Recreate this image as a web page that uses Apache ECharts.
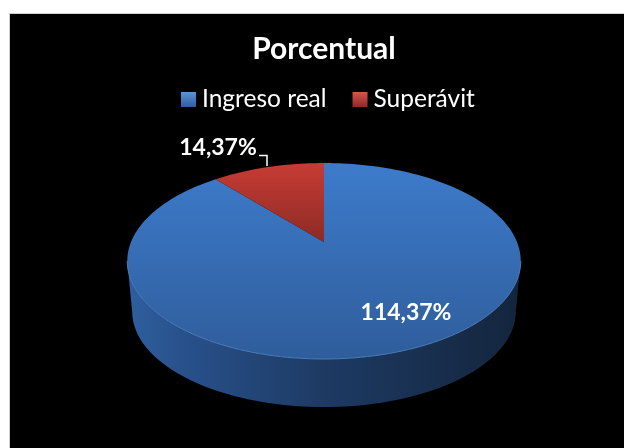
<!DOCTYPE html>
<html>
<head>
<meta charset="utf-8">
<title>Porcentual</title>
<script src="https://cdn.jsdelivr.net/npm/echarts@6/dist/echarts.min.js"></script>
<style>
html,body{margin:0;padding:0;background:#fff;}
#fondo{position:absolute;left:9px;top:13px;right:0;bottom:0;background:#000;border-left:1px solid #d0d0d0;border-top:1px solid #d0d0d0;}
#grafico{position:absolute;left:0;top:0;width:624px;height:448px;}
</style>
</head>
<body>
<div id="fondo"></div>
<div id="grafico"></div>
<script>
var categorias = ['Ingreso real', 'Superávit'];
var valores = [114.37, 14.37];

var total = valores[0] + valores[1];

/* la torta en perspectiva: cx,cy es el centro visto, k la perspectiva */
var cx = 324, cy = 242, ejeX = 193, ejeY = 94.3, k = 0.194;
var alto = 51, escalaBase = 0.975;

function punto(ang, escala, dy) {
    var u = Math.sin(ang), v = Math.cos(ang);
    var d = 1 + k * v;
    return [cx + escala * ejeX * u / d, cy + dy - escala * ejeY * v / d];
}

function sector(ini, fin) {
    var pts = [[cx, cy]];
    var n = Math.ceil((fin - ini) / 0.03);
    for (var i = 0; i <= n; i++) {
        pts.push(punto(ini + (fin - ini) * i / n, 1, 0));
    }
    return pts;
}

function borde(ini, fin, escala, dy) {
    var pts = [];
    var n = 90;
    for (var i = 0; i <= n; i++) {
        pts.push(punto(ini + (fin - ini) * i / n, escala, dy));
    }
    return pts;
}

function grad(c1, c2) {
    return new echarts.graphic.LinearGradient(0, 0, 0, 1, [
        {offset: 0, color: c1},
        {offset: 1, color: c2}
    ]);
}

function texto(valor) {
    return valor.toFixed(2).replace('.', ',') + '%';
}

function dibujaIngreso(params, api) {
    var fin = 2 * Math.PI * api.value(0) / total;
    var t1 = Math.acos(-k), t2 = 2 * Math.PI - t1;
    var pared = borde(t1, t2, 1, 0).concat(borde(t2, t1, escalaBase, alto));
    return {
        type: 'group',
        children: [
            {
                type: 'polygon',
                shape: {points: pared},
                style: {
                    fill: new echarts.graphic.LinearGradient(1, 0, 0, 0, [
                        {offset: 0, color: '#14253d'},
                        {offset: 0.5, color: '#1d3a63'},
                        {offset: 0.85, color: '#28508a'},
                        {offset: 1, color: '#2f5f9f'}
                    ])
                }
            },
            {
                type: 'polygon',
                shape: {points: sector(0, fin)},
                style: {fill: grad('#3d7bcb', '#2f5d9b')}
            },
            {
                type: 'polyline',
                shape: {points: borde(t1, t2, 1, 0)},
                style: {fill: 'none', stroke: '#4a7cba', lineWidth: 1}
            },
            {
                type: 'text',
                style: {
                    x: 406, y: 313, text: texto(api.value(0)),
                    fill: '#fff', font: 'bold 23px Lato',
                    align: 'center', verticalAlign: 'middle'
                }
            }
        ]
    };
}

function dibujaSuperavit(params, api) {
    var ini = 2 * Math.PI * valores[0] / total;
    return {
        type: 'group',
        children: [
            {
                type: 'polygon',
                shape: {points: sector(ini, 2 * Math.PI)},
                style: {fill: grad('#c63c34', '#8d2a25')}
            },
            {
                type: 'polyline',
                shape: {points: [[259, 155.5], [267, 155.5], [267, 166]]},
                style: {fill: 'none', stroke: '#fff', lineWidth: 1.5}
            },
            {
                type: 'text',
                style: {
                    x: 218, y: 148, text: texto(api.value(0)),
                    fill: '#fff', font: 'bold 23px Lato',
                    align: 'center', verticalAlign: 'middle'
                }
            }
        ]
    };
}

var grafico = echarts.init(document.getElementById('grafico'));
var opcion = {
    animation: false,
    backgroundColor: 'transparent',
    title: {
        text: 'Porcentual',
        left: 319,
        top: 29,
        textAlign: 'center',
        textStyle: {color: '#fff', fontFamily: 'Lato', fontWeight: 'bold', fontSize: 30}
    },
    legend: {
        left: 176,
        top: 82,
        itemWidth: 15,
        itemHeight: 15,
        itemGap: 26,
        icon: 'rect',
        textStyle: {color: '#fff', fontFamily: 'Lato', fontSize: 24.5, padding: [0, 0, 0, 1]},
        data: [
            {name: categorias[0], itemStyle: {color: grad('#5b93d8', '#2f5f9f')}},
            {name: categorias[1], itemStyle: {color: grad('#d9554c', '#8d2a25')}}
        ]
    },
    series: [
        {
            name: categorias[0],
            type: 'custom',
            coordinateSystem: 'none',
            renderItem: dibujaIngreso,
            itemStyle: {color: '#3d7bcb'},
            data: [[valores[0]]]
        },
        {
            name: categorias[1],
            type: 'custom',
            coordinateSystem: 'none',
            renderItem: dibujaSuperavit,
            itemStyle: {color: '#c63c34'},
            data: [[valores[1]]]
        }
    ]
};
grafico.setOption(opcion);
</script>
</body>
</html>
